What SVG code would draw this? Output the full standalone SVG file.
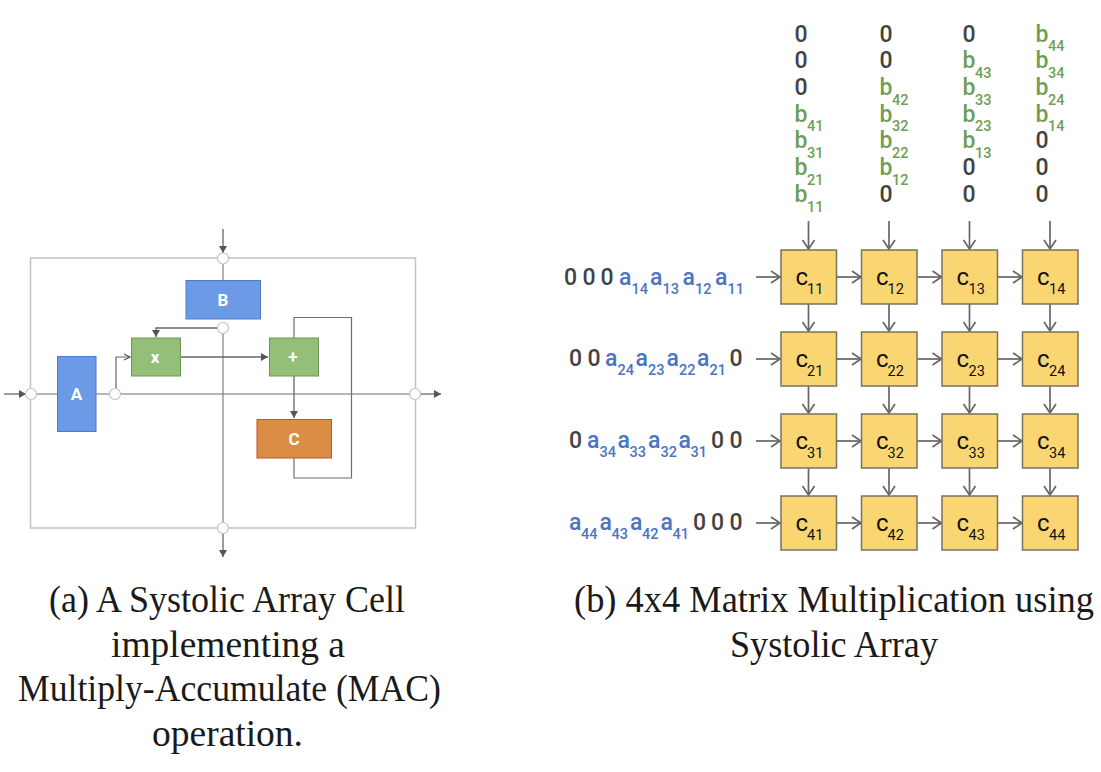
<svg xmlns="http://www.w3.org/2000/svg" width="1101" height="772" viewBox="0 0 1101 772">
<style>
.out{fill:none;stroke:#c2c2c2;stroke-width:1.5}
.ln{fill:none;stroke:#6f6f6f;stroke-width:1.2}
.lv{fill:none;stroke:#8a8a8a;stroke-width:1.3}
.lf{fill:none;stroke:#666;stroke-width:1.3;marker-end:url(#solid)}
.lo{fill:none;stroke:#666;stroke-width:1.2;marker-end:url(#small)}
.ga{fill:none;stroke:#666;stroke-width:1.7;marker-end:url(#open)}
.port{fill:#fff;stroke:#c2c2c2;stroke-width:1.2}
.bl{fill:#6d9ae6;stroke:#4a7bd0;stroke-width:1}
.gr{fill:#93bf78;stroke:#6c9a55;stroke-width:1}
.or{fill:#dc8d45;stroke:#c8502c;stroke-width:1}
.cell{fill:#fad672;stroke:#77725f;stroke-width:1.5}
.bt{font:700 17px Roboto,"Liberation Sans",sans-serif;fill:#fff;text-anchor:middle}
.z,.a,.b,.sa,.sb{font-family:Roboto,"Liberation Sans",sans-serif;font-weight:500}
.z{font-size:23px;fill:#434343}
.a{font-size:23px;fill:#4a74c4}
.b{font-size:23px;fill:#6f9f55}
.sa{font-size:14.500px;fill:#4a74c4}
.sb{font-size:14.500px;fill:#6f9f55}
.c{font:400 24px Roboto,"Liberation Sans",sans-serif;fill:#111}
.cs{font:400 14.500px Roboto,"Liberation Sans",sans-serif;fill:#111}
.cap{font-family:"Liberation Serif",serif;font-size:37px;fill:#1a1a1a}
</style>
<defs>
<marker id="solid" markerUnits="userSpaceOnUse" markerWidth="10" markerHeight="10" refX="7" refY="4" orient="auto"><path d="M0 0L7 4L0 8Z" fill="#555"/></marker>
<marker id="small" markerUnits="userSpaceOnUse" markerWidth="10" markerHeight="10" refX="7" refY="4" orient="auto"><path d="M1 1L7 4L1 7" fill="none" stroke="#555" stroke-width="1.200"/></marker>
<marker id="open" markerUnits="userSpaceOnUse" markerWidth="14" markerHeight="16" refX="11" refY="7" orient="auto"><path d="M2 1L11 7L2 13" fill="none" stroke="#666" stroke-width="1.700"/></marker>
</defs>
<rect width="1101" height="772" fill="#fff"/>

<g id="connectors-a">
<rect class="out" x="30.500" y="258" width="385" height="270"/>
<path class="ln" d="M36 394H57M96 394H110M120 394H410"/>
<path class="lv" d="M223 263V280M223 333V523"/>
<path class="lf" d="M223 229V253"/>
<path class="lf" d="M223 533V557"/>
<path class="lf" d="M4 394H26"/>
<path class="lf" d="M420 394H441"/>
<path class="lf" d="M218 328H156V337"/>
<path class="lo" d="M116 389V357H130"/>
<path class="lf" d="M181 357H268"/>
<path class="lf" d="M294 376V418"/>
<path class="ln" d="M294 338V317.500H351.500V478H294V458"/>
</g>
<g id="port-top"><circle class="port" cx="223" cy="258.500" r="5.500"/></g>
<g id="port-bottom"><circle class="port" cx="223" cy="528" r="5.500"/></g>
<g id="port-left"><circle class="port" cx="31" cy="394" r="5.500"/></g>
<g id="port-right"><circle class="port" cx="415" cy="394" r="5.500"/></g>
<g id="port-a"><circle class="port" cx="115" cy="394" r="5.500"/></g>
<g id="port-b"><circle class="port" cx="223" cy="328" r="5.500"/></g>
<g id="node-A"><rect class="bl" x="57.500" y="356.500" width="38.500" height="75"/><text class="bt" x="76.500" y="400">A</text></g>
<g id="node-B"><rect class="bl" x="186" y="280.500" width="74.500" height="38.500"/><text class="bt" x="223" y="306">B</text></g>
<g id="node-x"><rect class="gr" x="131.500" y="338" width="49" height="38"/><text class="bt" x="155" y="363">x</text></g>
<g id="node-plus"><rect class="gr" x="269.500" y="338" width="49" height="38"/><text class="bt" x="293" y="363">+</text></g>
<g id="node-C"><rect class="or" x="257" y="419.500" width="74.500" height="38.500"/><text class="bt" x="294" y="445">C</text></g>

<g id="connectors-b">
<path class="ga" d="M808.500 221V249"/><path class="ga" d="M889 221V249"/><path class="ga" d="M969.500 221V249"/><path class="ga" d="M1050 221V249"/>
<path class="ga" d="M756 277H780"/><path class="ga" d="M756 359H780"/><path class="ga" d="M756 441H780"/><path class="ga" d="M756 523H780"/>
<path class="ga" d="M837 277H861"/><path class="ga" d="M917.500 277H941.500"/><path class="ga" d="M998 277H1022"/>
<path class="ga" d="M837 359H861"/><path class="ga" d="M917.500 359H941.500"/><path class="ga" d="M998 359H1022"/>
<path class="ga" d="M837 441H861"/><path class="ga" d="M917.500 441H941.500"/><path class="ga" d="M998 441H1022"/>
<path class="ga" d="M837 523H861"/><path class="ga" d="M917.500 523H941.500"/><path class="ga" d="M998 523H1022"/>
<path class="ga" d="M808.500 304V331"/><path class="ga" d="M889 304V331"/><path class="ga" d="M969.500 304V331"/><path class="ga" d="M1050 304V331"/>
<path class="ga" d="M808.500 386V413"/><path class="ga" d="M889 386V413"/><path class="ga" d="M969.500 386V413"/><path class="ga" d="M1050 386V413"/>
<path class="ga" d="M808.500 468V495"/><path class="ga" d="M889 468V495"/><path class="ga" d="M969.500 468V495"/><path class="ga" d="M1050 468V495"/>
</g>

<g id="c11"><rect class="cell" x="781" y="250" width="55.500" height="54"/><text class="c" x="795.500" y="285">c</text><text class="cs" x="807" y="294">11</text></g>
<g id="c12"><rect class="cell" x="861.500" y="250" width="55.500" height="54"/><text class="c" x="876" y="285">c</text><text class="cs" x="887.500" y="294">12</text></g>
<g id="c13"><rect class="cell" x="942" y="250" width="55.500" height="54"/><text class="c" x="956.500" y="285">c</text><text class="cs" x="968.500" y="294">13</text></g>
<g id="c14"><rect class="cell" x="1022.500" y="250" width="55.500" height="54"/><text class="c" x="1037" y="285">c</text><text class="cs" x="1049" y="294">14</text></g>
<g id="c21"><rect class="cell" x="781" y="332" width="55.500" height="54"/><text class="c" x="795.500" y="367">c</text><text class="cs" x="807" y="376">21</text></g>
<g id="c22"><rect class="cell" x="861.500" y="332" width="55.500" height="54"/><text class="c" x="876" y="367">c</text><text class="cs" x="887.500" y="376">22</text></g>
<g id="c23"><rect class="cell" x="942" y="332" width="55.500" height="54"/><text class="c" x="956.500" y="367">c</text><text class="cs" x="968.500" y="376">23</text></g>
<g id="c24"><rect class="cell" x="1022.500" y="332" width="55.500" height="54"/><text class="c" x="1037" y="367">c</text><text class="cs" x="1049" y="376">24</text></g>
<g id="c31"><rect class="cell" x="781" y="414" width="55.500" height="54"/><text class="c" x="795.500" y="449">c</text><text class="cs" x="807" y="458">31</text></g>
<g id="c32"><rect class="cell" x="861.500" y="414" width="55.500" height="54"/><text class="c" x="876" y="449">c</text><text class="cs" x="887.500" y="458">32</text></g>
<g id="c33"><rect class="cell" x="942" y="414" width="55.500" height="54"/><text class="c" x="956.500" y="449">c</text><text class="cs" x="968.500" y="458">33</text></g>
<g id="c34"><rect class="cell" x="1022.500" y="414" width="55.500" height="54"/><text class="c" x="1037" y="449">c</text><text class="cs" x="1049" y="458">34</text></g>
<g id="c41"><rect class="cell" x="781" y="496" width="55.500" height="54"/><text class="c" x="795.500" y="531">c</text><text class="cs" x="807" y="540">41</text></g>
<g id="c42"><rect class="cell" x="861.500" y="496" width="55.500" height="54"/><text class="c" x="876" y="531">c</text><text class="cs" x="887.500" y="540">42</text></g>
<g id="c43"><rect class="cell" x="942" y="496" width="55.500" height="54"/><text class="c" x="956.500" y="531">c</text><text class="cs" x="968.500" y="540">43</text></g>
<g id="c44"><rect class="cell" x="1022.500" y="496" width="55.500" height="54"/><text class="c" x="1037" y="531">c</text><text class="cs" x="1049" y="540">44</text></g>

<g id="col1">
<text class="z" x="794.500" y="41.500">0</text><text class="z" x="794.500" y="68">0</text><text class="z" x="794.500" y="95">0</text>
<text class="b" x="794.500" y="121.500">b</text><text class="sb" x="807" y="131">41</text>
<text class="b" x="794.500" y="148">b</text><text class="sb" x="807" y="158">31</text>
<text class="b" x="794.500" y="175">b</text><text class="sb" x="807" y="184.500">21</text>
<text class="b" x="794.500" y="202">b</text><text class="sb" x="807" y="211.500">11</text>
</g>
<g id="col2">
<text class="z" x="879.500" y="41.500">0</text><text class="z" x="879.500" y="68">0</text>
<text class="b" x="879.500" y="95">b</text><text class="sb" x="892" y="104.500">42</text>
<text class="b" x="879.500" y="121.500">b</text><text class="sb" x="892" y="131">32</text>
<text class="b" x="879.500" y="148">b</text><text class="sb" x="892" y="158">22</text>
<text class="b" x="879.500" y="175">b</text><text class="sb" x="892" y="184.500">12</text>
<text class="z" x="879.500" y="202">0</text>
</g>
<g id="col3">
<text class="z" x="962.500" y="41.500">0</text>
<text class="b" x="962.500" y="68">b</text><text class="sb" x="975" y="78">43</text>
<text class="b" x="962.500" y="95">b</text><text class="sb" x="975" y="104.500">33</text>
<text class="b" x="962.500" y="121.500">b</text><text class="sb" x="975" y="131">23</text>
<text class="b" x="962.500" y="148">b</text><text class="sb" x="975" y="158">13</text>
<text class="z" x="962.500" y="175">0</text><text class="z" x="962.500" y="202">0</text>
</g>
<g id="col4">
<text class="b" x="1035.500" y="41.500">b</text><text class="sb" x="1048" y="51">44</text>
<text class="b" x="1035.500" y="68">b</text><text class="sb" x="1048" y="78">34</text>
<text class="b" x="1035.500" y="95">b</text><text class="sb" x="1048" y="104.500">24</text>
<text class="b" x="1035.500" y="121.500">b</text><text class="sb" x="1048" y="131">14</text>
<text class="z" x="1035.500" y="148">0</text><text class="z" x="1035.500" y="175">0</text><text class="z" x="1035.500" y="202">0</text>
</g>

<g id="row1">
<text class="z" x="564" y="285">0</text><text class="z" x="582.500" y="285">0</text><text class="z" x="600.500" y="285">0</text>
<text class="a" x="619" y="285">a</text><text class="sa" x="631.500" y="294">14</text>
<text class="a" x="650" y="285">a</text><text class="sa" x="662.500" y="294">13</text>
<text class="a" x="682.500" y="285">a</text><text class="sa" x="695" y="294">12</text>
<text class="a" x="715" y="285">a</text><text class="sa" x="727.500" y="294">11</text>
</g>
<g id="row2">
<text class="z" x="569" y="366">0</text><text class="z" x="587.500" y="366">0</text>
<text class="a" x="605" y="366">a</text><text class="sa" x="617.500" y="375">24</text>
<text class="a" x="635.500" y="366">a</text><text class="sa" x="648" y="375">23</text>
<text class="a" x="666.500" y="366">a</text><text class="sa" x="679" y="375">22</text>
<text class="a" x="697" y="366">a</text><text class="sa" x="709.500" y="375">21</text>
<text class="z" x="729.500" y="366">0</text>
</g>
<g id="row3">
<text class="z" x="569" y="448">0</text>
<text class="a" x="587" y="448">a</text><text class="sa" x="599.500" y="457">34</text>
<text class="a" x="617.500" y="448">a</text><text class="sa" x="629.500" y="457">33</text>
<text class="a" x="648" y="448">a</text><text class="sa" x="660.500" y="457">32</text>
<text class="a" x="678.500" y="448">a</text><text class="sa" x="690.500" y="457">31</text>
<text class="z" x="711" y="448">0</text><text class="z" x="729.500" y="448">0</text>
</g>
<g id="row4">
<text class="a" x="569" y="530">a</text><text class="sa" x="581" y="539">44</text>
<text class="a" x="599.500" y="530">a</text><text class="sa" x="611.500" y="539">43</text>
<text class="a" x="630" y="530">a</text><text class="sa" x="642" y="539">42</text>
<text class="a" x="660.500" y="530">a</text><text class="sa" x="672.500" y="539">41</text>
<text class="z" x="693" y="530">0</text><text class="z" x="711" y="530">0</text><text class="z" x="729.500" y="530">0</text>
</g>

<g id="captions">
<text class="cap" x="49" y="612" textLength="356" lengthAdjust="spacingAndGlyphs">(a) A Systolic Array Cell</text>
<text class="cap" x="111" y="657" textLength="234" lengthAdjust="spacingAndGlyphs">implementing a</text>
<text class="cap" x="18" y="701" textLength="423" lengthAdjust="spacingAndGlyphs">Multiply-Accumulate (MAC)</text>
<text class="cap" x="152" y="746" textLength="151" lengthAdjust="spacingAndGlyphs">operation.</text>
<text class="cap" x="574" y="612" textLength="520" lengthAdjust="spacingAndGlyphs">(b) 4x4 Matrix Multiplication using</text>
<text class="cap" x="730" y="657" textLength="208" lengthAdjust="spacingAndGlyphs">Systolic Array</text>
</g>
</svg>
